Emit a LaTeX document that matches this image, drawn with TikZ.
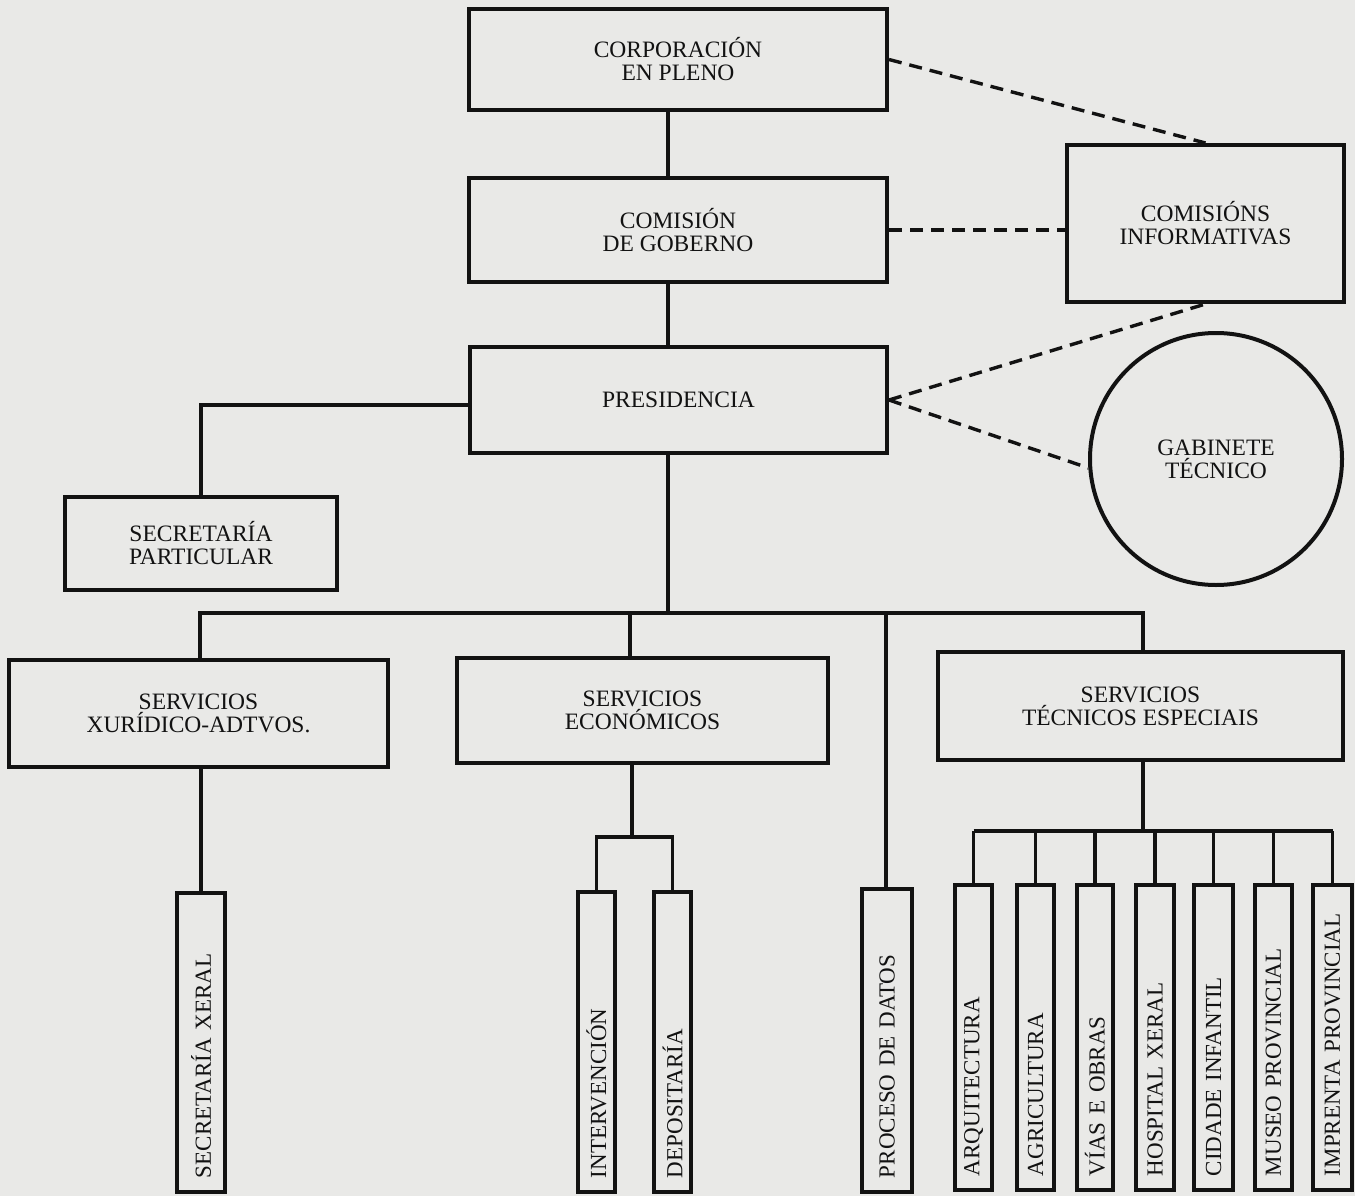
\documentclass[tikz,border=0pt]{standalone}
\usepackage{fontspec}
\setmainfont{Liberation Serif}
\definecolor{paper}{RGB}{233,233,231}
\definecolor{ink}{RGB}{18,18,18}
\begin{document}
\begin{tikzpicture}[x=1pt,y=-1pt,
  box/.style={draw=ink, line width=4pt, align=center, inner sep=0pt, text=ink, font=\fontsize{23.5}{23}\selectfont},
  vbox/.style={draw=ink, line width=3.8pt, rotate=90, align=left, inner xsep=14pt, inner ysep=0pt, text=ink, font=\fontsize{23}{23}\selectfont},
  link/.style={draw=ink, line width=3.4pt},
  dlink/.style={draw=ink, line width=3.4pt, dash pattern=on 13pt off 8pt}]
\fill[paper] (0,0) rectangle (1355,1196);
\useasboundingbox (0,0) rectangle (1355,1196);
% main boxes
\node[box, minimum width=418pt, minimum height=101pt] (corp) at (678,59.5) {CORPORACIÓN\\EN PLENO};
\node[box, minimum width=418pt, minimum height=104pt] (gob) at (678,230) {COMISIÓN\\DE GOBERNO};
\node[box, minimum width=417pt, minimum height=106pt] (pres) at (678.5,400) {PRESIDENCIA};
\node[box, minimum width=277pt, minimum height=157pt] (com) at (1205.5,223.5) {COMISIÓNS\\INFORMATIVAS};
\node[box, circle, minimum size=252pt] (gab) at (1216,459) {GABINETE\\TÉCNICO};
\node[box, minimum width=272pt, minimum height=93pt] (secp) at (201,543.5) {SECRETARÍA\\PARTICULAR};
\node[box, minimum width=379pt, minimum height=107pt] (xur) at (198.5,713.5) {SERVICIOS\\XURÍDICO-ADTVOS.};
\node[box, minimum width=371pt, minimum height=105pt] (eco) at (642.5,710.5) {SERVICIOS\\ECONÓMICOS};
\node[box, minimum width=405pt, minimum height=108pt] (tec) at (1140.5,706) {SERVICIOS\\TÉCNICOS ESPECIAIS};
% vertical boxes
\node[vbox, text width=271pt, minimum height=48pt] (sx) at (201,1042.5) {SECRETARÍA XERAL};
\node[vbox, text width=272pt, minimum height=37pt] (intv) at (596.5,1042) {INTERVENCIÓN};
\node[vbox, text width=272pt, minimum height=37pt] (dep) at (672.5,1042) {DEPOSITARÍA};
\node[vbox, text width=275pt, minimum height=50pt] (proc) at (887,1040.5) {PROCESO DE DATOS};
\node[vbox, text width=277pt, minimum height=37pt] (arq) at (973.5,1037.5) {ARQUITECTURA};
\node[vbox, text width=277pt, minimum height=37pt] (agr) at (1035.5,1037.5) {AGRICULTURA};
\node[vbox, text width=277pt, minimum height=36pt] (vias) at (1095,1037.5) {VÍAS E OBRAS};
\node[vbox, text width=277pt, minimum height=38pt] (hosp) at (1155,1037.5) {HOSPITAL XERAL};
\node[vbox, text width=277pt, minimum height=39pt] (cid) at (1213.5,1037.5) {CIDADE INFANTIL};
\node[vbox, text width=277pt, minimum height=37pt] (mus) at (1273.5,1037.5) {MUSEO PROVINCIAL};
\node[vbox, text width=277pt, minimum height=39pt] (imp) at (1332.5,1037.5) {IMPRENTA PROVINCIAL};
% helper coordinates
\coordinate (spine) at (668,613);
\coordinate (busL) at (200,613);
\coordinate (ecoT) at (630,613);
\coordinate (busR) at (1143,613);
\coordinate (procT) at (886,613);
\coordinate (eb) at (632,837);
\coordinate (tb) at (1143,831);
\coordinate (pl) at (470,405);
% solid connectors
\draw[link] (corp.south -| spine) -- (gob.north -| spine);
\draw[link] (gob.south -| spine) -- (pres.north -| spine);
\draw[link] (pres.south -| spine) -- (spine);
\draw[link] (pl) -| (secp.north);
\draw[link] (busL |- xur.north) -- (busL) -- (busR) -- (busR |- tec.north);
\draw[link] (ecoT) -- (ecoT |- eco.north);
\draw[link] (procT) -- (procT |- proc.east);
\draw[link] (sx.east |- xur.south) -- (sx.east);
\draw[link] (eb |- eco.south) -- (eb);
\draw[link] (intv.east) -- (intv.east |- eb) -- (dep.east |- eb) -- (dep.east);
\draw[link] (tb |- tec.south) -- (tb);
\draw[link] (arq.east |- tb) -- (imp.east |- tb);
\foreach \n in {arq,agr,vias,hosp,cid,mus,imp}{\draw[link] (\n.east |- tb) -- (\n.east);}
% dashed connectors
\draw[dlink] (corp.east) -- (com.north);
\draw[dlink] (gob.east) -- (gob.east -| com.west);
\draw[dlink] (pres.east) -- (com.south);
\draw[dlink] (pres.east) -- (gab.184);
\end{tikzpicture}
\end{document}
